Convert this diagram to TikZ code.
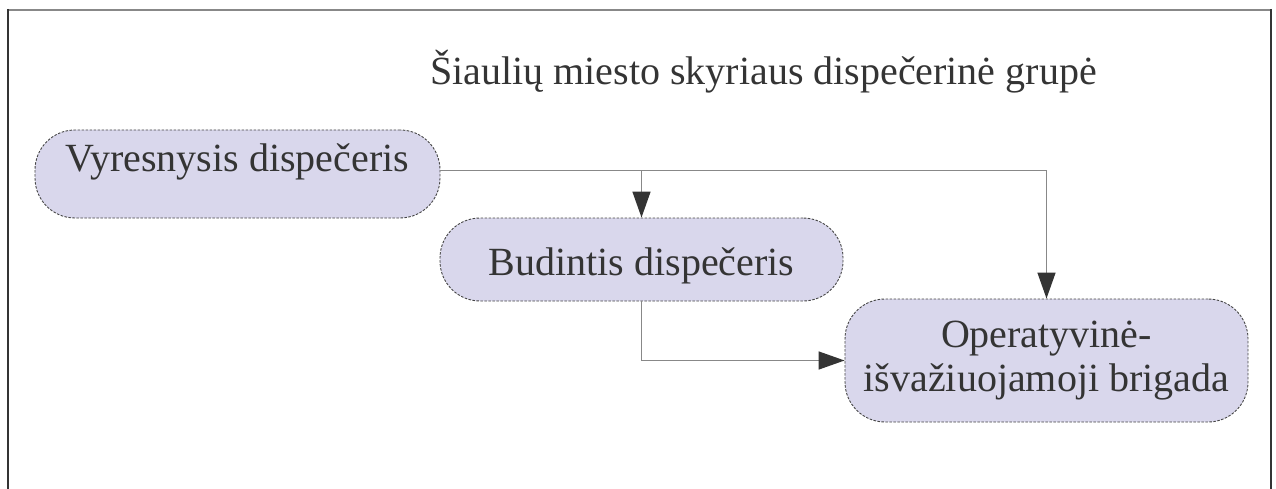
\documentclass[tikz,border=0pt]{standalone}
\usepackage{fontspec}
\setmainfont{Liberation Serif}
\usetikzlibrary{arrows.meta,calc}
\definecolor{boxfill}{RGB}{217,215,236}
\definecolor{boxline}{RGB}{70,70,70}
\definecolor{txt}{RGB}{52,52,52}
\definecolor{conncol}{RGB}{136,136,136}
\definecolor{headcol}{RGB}{52,52,52}
\tikzset{
  pill/.style={draw=boxline, fill=boxfill, line width=0.9pt,
    dash pattern=on 2.5pt off 1.5pt, rounded corners=40pt,
    inner sep=0pt, text=txt, font=\fontsize{40pt}{44pt}\selectfont},
  conn/.style={draw=conncol, line width=1.5pt,
    -{Triangle[length=26pt,width=18pt,color=headcol]}},
  framegray/.style={draw=conncol, line width=2pt},
  framedark/.style={draw=txt, line width=2pt},
}
\begin{document}
\begin{tikzpicture}[x=1pt,y=-1pt]
\useasboundingbox (0,0) rectangle (1276,489);
% frame (open at the bottom)
\draw[framegray] (7.5,10) -- (1271,10);
\draw[framedark] (7.5,9) -- (7.5,489);
\draw[framedark, line width=1.5pt] (1271,9) -- (1271,489);
% title
\node[anchor=base west, inner sep=0pt, text=txt, font=\fontsize{40pt}{44pt}\selectfont]
  (title) at (430,85) {Šiaulių miesto skyriaus dispečerinė grupė};
% boxes
\node[pill, minimum width=405pt, minimum height=88pt, text height=28pt, text depth=32pt]
  (v) at (237.5,174) {Vyresnysis dispečeris};
\node[pill, minimum width=403pt, minimum height=83pt, text height=40pt, text depth=9pt]
  (b) at (641.5,259.5) {Budintis dispečeris};
\node[pill, minimum width=403pt, minimum height=123pt, align=center]
  (o) at (1046.5,360.5) {\raisebox{-17pt}{\begin{tabular}{@{}c@{}}Operatyvinė-\\[0pt]išvažiuojamoji brigada\end{tabular}}};
% connectors
\coordinate (vy) at ($(v.east)+(0,-3.3)$);
\draw[conn] (vy) -| (b.north);
\draw[conn] (vy) -| (o.north);
\draw[conn] (b.south) |- (o.west);
\end{tikzpicture}
\end{document}
